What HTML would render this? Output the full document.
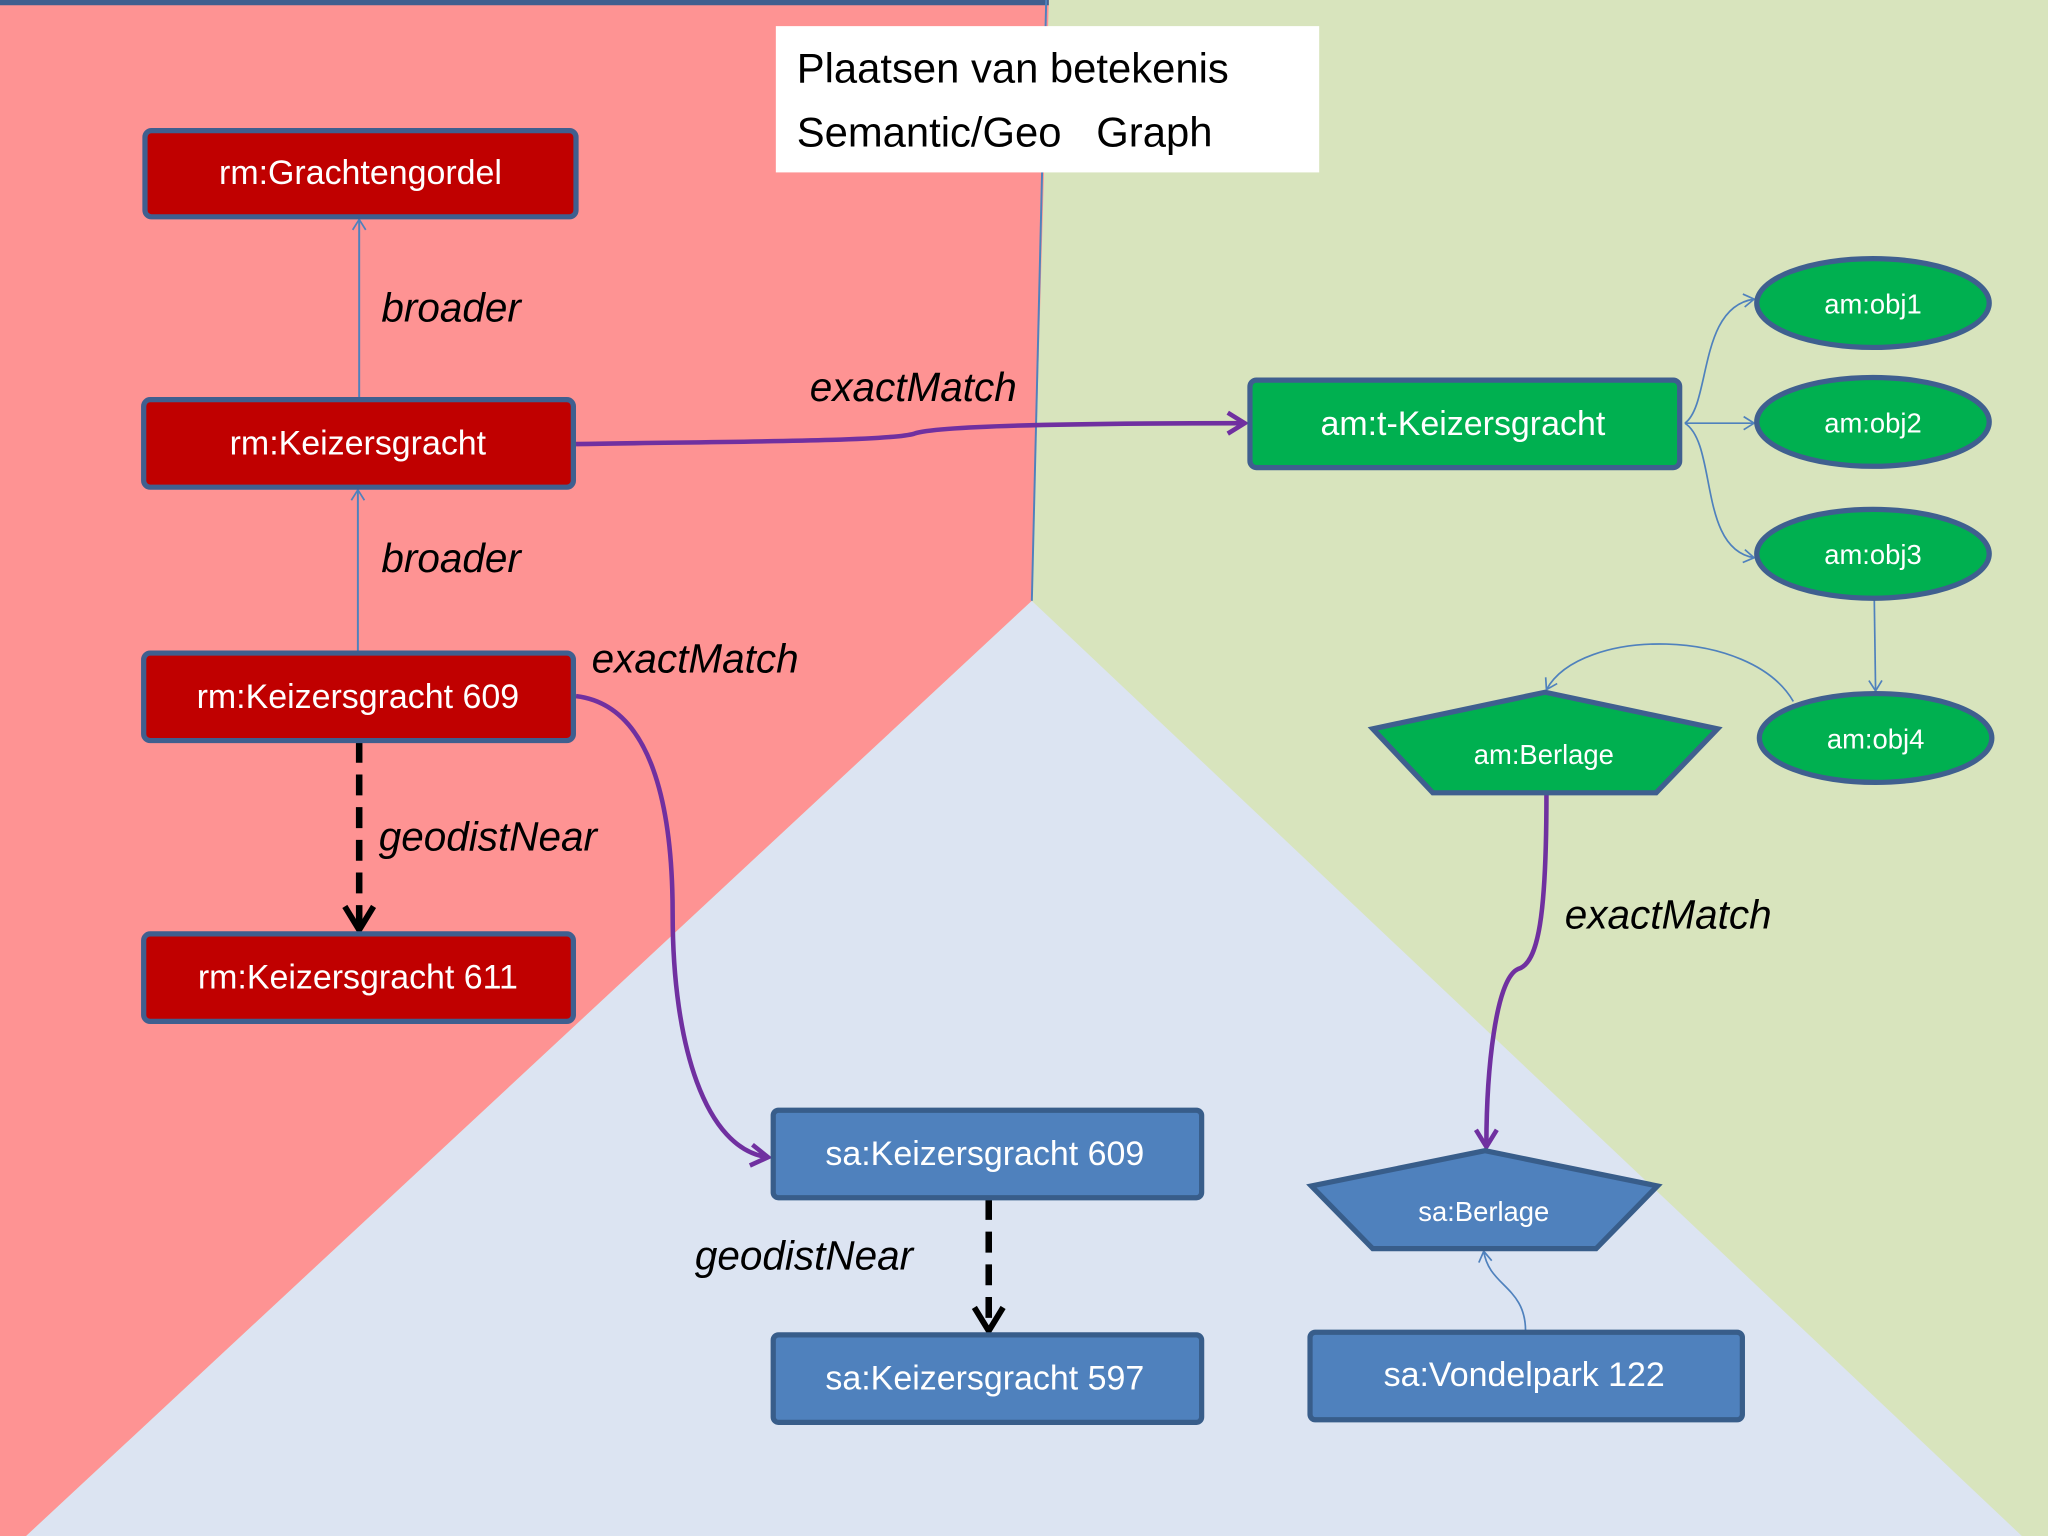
<!DOCTYPE html>
<html><head><meta charset="utf-8"><style>
html,body{margin:0;padding:0;width:2048px;height:1536px;overflow:hidden;background:#fff}
svg{display:block}
text{font-family:"Liberation Sans",sans-serif}
</style></head><body>
<svg width="2048" height="1536" viewBox="0 0 1568 1176" preserveAspectRatio="none" xmlns="http://www.w3.org/2000/svg">
<defs>
<marker id="thin" markerWidth="12" markerHeight="12" refX="10" refY="6" orient="auto" markerUnits="userSpaceOnUse"><path d="M2,1 L10,6 L2,11" fill="none" stroke="#4f81bd" stroke-width="1.3"/></marker>
<marker id="pur" markerWidth="20" markerHeight="20" refX="17" refY="10" orient="auto" markerUnits="userSpaceOnUse"><path d="M4,2 L17,10 L4,18" fill="none" stroke="#7030a0" stroke-width="3.5"/></marker>
<marker id="blk" markerWidth="28" markerHeight="28" refX="24" refY="14" orient="auto" markerUnits="userSpaceOnUse"><path d="M6,3 L24,14 L6,25" fill="none" stroke="#000" stroke-width="4.5"/></marker>
</defs>
<rect width="1568" height="1176" fill="#d8e4bd"/>
<polygon points="0,0 803,0 790,460 20,1176 0,1176" fill="#fe9393"/>
<polygon points="20,1176 790,460 1548,1176" fill="#dce4f2"/>
<line x1="0" y1="2" x2="803" y2="2" stroke="#3f5f8f" stroke-width="4"/>
<line x1="801" y1="0" x2="790" y2="460" stroke="#4f81bd" stroke-width="1.5"/>

<rect x="594" y="20" width="416" height="112" fill="#fff"/>
<text x="610" y="63" font-size="32" fill="#000">Plaatsen van betekenis</text>
<text x="610" y="112" font-size="32" fill="#000" xml:space="preserve">Semantic/Geo   Graph</text>

<line x1="275" y1="305" x2="275" y2="168" stroke="#4f81bd" stroke-width="1.5" marker-end="url(#thin)"/>
<line x1="274" y1="499" x2="274" y2="375" stroke="#4f81bd" stroke-width="1.5" marker-end="url(#thin)"/>
<path d="M441,340 C560,338 680,338 700,332 C720,325 850,324 953,324" fill="none" stroke="#7030a0" stroke-width="3.5" marker-end="url(#pur)"/>
<path d="M441,533 C500,540 515,620 515,700 C515,800 540,880 588,886" fill="none" stroke="#7030a0" stroke-width="3.5" marker-end="url(#pur)"/>
<path d="M1184,608 C1184,700 1178,738 1162,742 C1145,750 1138,820 1138,878" fill="none" stroke="#7030a0" stroke-width="3.5" marker-end="url(#pur)"/>
<line x1="275" y1="568" x2="275" y2="712" stroke="#000" stroke-width="5" stroke-dasharray="16,9" marker-end="url(#blk)"/>
<line x1="757" y1="918" x2="757" y2="1019" stroke="#000" stroke-width="5" stroke-dasharray="16,9" marker-end="url(#blk)"/>
<path d="M1290,324 C1310,310 1300,235 1343,229" fill="none" stroke="#4f81bd" stroke-width="1.3" marker-end="url(#thin)"/>
<line x1="1290" y1="324" x2="1343" y2="324" stroke="#4f81bd" stroke-width="1.3" marker-end="url(#thin)"/>
<path d="M1290,324 C1315,340 1300,420 1343,427" fill="none" stroke="#4f81bd" stroke-width="1.3" marker-end="url(#thin)"/>
<line x1="1435" y1="459" x2="1436" y2="529" stroke="#4f81bd" stroke-width="1.3" marker-end="url(#thin)"/>
<path d="M1373,537 C1340,480 1210,480 1184,528" fill="none" stroke="#4f81bd" stroke-width="1.3" marker-end="url(#thin)"/>
<path d="M1168,1019 C1168,985 1140,985 1136,958" fill="none" stroke="#4f81bd" stroke-width="1.3" marker-end="url(#thin)"/>

<g fill="#c00000" stroke="#3f5f8f" stroke-width="4">
<rect x="111" y="100" width="330" height="66" rx="5"/>
<rect x="110" y="306" width="329" height="67" rx="5"/>
<rect x="110" y="500" width="329" height="67" rx="5"/>
<rect x="110" y="715" width="329" height="67" rx="5"/>
</g>
<g fill="#fff" font-size="26" text-anchor="middle">
<text x="276" y="141">rm:Grachtengordel</text>
<text x="274" y="348">rm:Keizersgracht</text>
<text x="274" y="542">rm:Keizersgracht 609</text>
<text x="274" y="757">rm:Keizersgracht 611</text>
</g>

<rect x="957" y="291" width="329" height="67" rx="5" fill="#00b050" stroke="#3f5f8f" stroke-width="4"/>
<text x="1120" y="333" fill="#fff" font-size="26" text-anchor="middle">am:t-Keizersgracht</text>
<g fill="#00b050" stroke="#3f5f8f" stroke-width="4">
<ellipse cx="1434" cy="232" rx="89" ry="34"/>
<ellipse cx="1434" cy="323" rx="89" ry="34"/>
<ellipse cx="1434" cy="424" rx="89" ry="34"/>
<ellipse cx="1436" cy="565" rx="89" ry="34"/>
<polygon points="1183,530 1315,558 1268,607 1097,607 1051,558"/>
</g>
<g fill="#fff" font-size="21" text-anchor="middle">
<text x="1434" y="240">am:obj1</text>
<text x="1434" y="331">am:obj2</text>
<text x="1434" y="432">am:obj3</text>
<text x="1436" y="573">am:obj4</text>
<text x="1182" y="585">am:Berlage</text>
</g>

<g fill="#4f81bd" stroke="#385d8a" stroke-width="4">
<rect x="592" y="850" width="328" height="67" rx="4"/>
<rect x="592" y="1022" width="328" height="67" rx="4"/>
<rect x="1003" y="1020" width="331" height="67" rx="4"/>
<polygon points="1137,881 1269,908 1222,956 1051,956 1004,908"/>
</g>
<g fill="#fff" font-size="26" text-anchor="middle">
<text x="754" y="892">sa:Keizersgracht 609</text>
<text x="754" y="1064">sa:Keizersgracht 597</text>
<text x="1167" y="1061">sa:Vondelpark 122</text>
<text x="1136" y="935" font-size="21">sa:Berlage</text>
</g>

<g font-size="31" font-style="italic" fill="#000">
<text x="292" y="246">broader</text>
<text x="292" y="438">broader</text>
<text x="620" y="307">exactMatch</text>
<text x="453" y="515">exactMatch</text>
<text x="1198" y="711">exactMatch</text>
<text x="290" y="651">geodistNear</text>
<text x="532" y="972">geodistNear</text>
</g>
</svg>
</body></html>
